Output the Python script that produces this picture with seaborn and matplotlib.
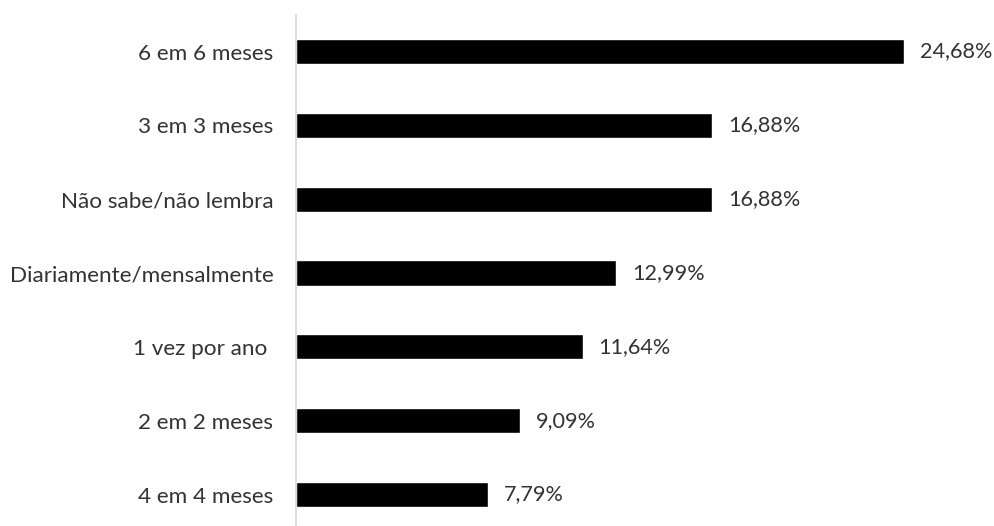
import matplotlib
matplotlib.use("Agg")
import matplotlib.pyplot as plt
import seaborn as sns
import pandas as pd

categories = [
    "6 em 6 meses",
    "3 em 3 meses",
    "Não sabe/não lembra",
    "Diariamente/mensalmente",
    "1 vez por ano ",
    "2 em 2 meses",
    "4 em 4 meses",
]
values = [24.68, 16.88, 16.88, 12.99, 11.64, 9.09, 7.79]

df = pd.DataFrame({"categoria": categories, "percentual": values})

sns.set_style("white")
plt.rcParams["font.family"] = ["Lato", "DejaVu Sans"]

text_color = "#333333"

fig = plt.figure(figsize=(9.95, 5.26), dpi=100)
ax = fig.add_axes([295.5 / 995, -0.0103, 665.8 / 995, 0.9825])

sns.barplot(data=df, x="percentual", y="categoria", orient="h",
            color="black", saturation=1, width=0.34, ax=ax)

ax.set_xlim(0, 27)
ax.set_ylim(6.5, -0.5)
ax.set_xlabel("")
ax.set_ylabel("")
ax.set_xticks([])

for side in ("top", "right", "bottom"):
    ax.spines[side].set_visible(False)
ax.spines["left"].set_color("#d9d9d9")
ax.spines["left"].set_linewidth(1.3)

ax.tick_params(axis="y", length=0, pad=16, labelsize=16.2, labelcolor=text_color)

labels = [f"{v:.2f}".replace(".", ",") + "%" for v in values]
ax.bar_label(ax.containers[0], labels=labels, padding=11.5,
             fontsize=15.6, color=text_color, clip_on=False)

fig.savefig("out.png", dpi=100)
